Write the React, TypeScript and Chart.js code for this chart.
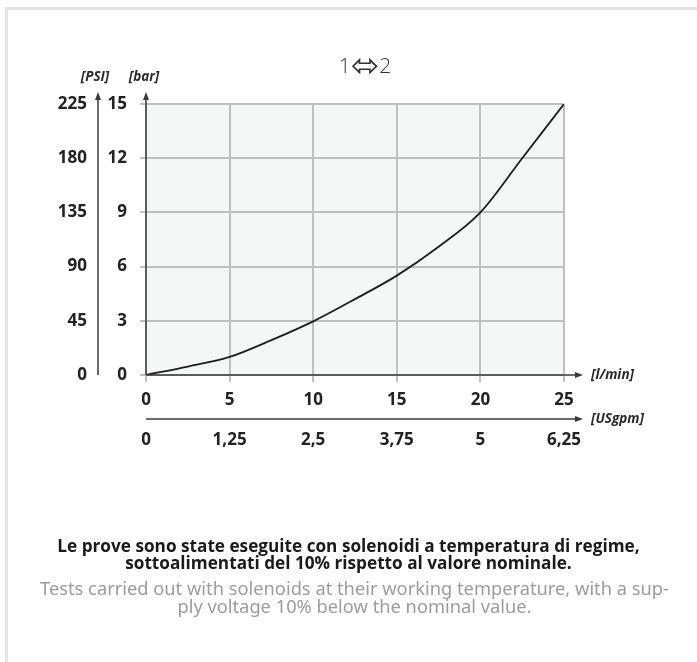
import { useEffect, useRef } from 'react';
import { Chart, registerables } from 'chart.js';

Chart.register(...registerables);

// ---- data ----
const FLOW_LMIN = [0, 2.5, 5, 7.5, 10, 12.5, 15, 17.5, 20, 22.5, 25];
const PRESSURE_BAR = [0, 0.47, 1.0, 1.93, 2.97, 4.2, 5.5, 7.1, 9.0, 12.0, 15.0];

const X_TICKS_LMIN = [0, 5, 10, 15, 20, 25];
const X_TICKS_USGPM = [0, 1.25, 2.5, 3.75, 5, 6.25];
const Y_TICKS_BAR = [0, 3, 6, 9, 12, 15];
const Y_TICKS_PSI = [0, 45, 90, 135, 180, 225];

const TITLE_LEFT = '1';
const TITLE_ARROW = '\u2B04';
const TITLE_RIGHT = '2';
const UNIT_PSI = '[PSI]';
const UNIT_BAR = '[bar]';
const UNIT_LMIN = '[l/min]';
const UNIT_USGPM = '[USgpm]';

const NOTE_IT = [
  'Le prove sono state eseguite con solenoidi a temperatura di regime,',
  'sottoalimentati del 10% rispetto al valore nominale.',
];
const NOTE_EN = [
  'Tests carried out with solenoids at their working temperature, with a sup-',
  'ply voltage 10% below the nominal value.',
];

const W = 697;
const H = 662;
const FONT = '"Open Sans", "DejaVu Sans", sans-serif';

const fmt = (v: number) => String(v).replace('.', ',');

export default function App() {
  const ref = useRef<HTMLCanvasElement>(null);

  useEffect(() => {
    document.body.style.margin = '0';
    const canvas = ref.current;
    if (!canvas) return;

    const bgPlugin = {
      id: 'plotBg',
      beforeDraw(c: any) {
        const { ctx, chartArea: a } = c;
        ctx.save();
        ctx.fillStyle = '#f5f6f6';
        ctx.fillRect(a.left, a.top, a.right - a.left, a.bottom - a.top);
        ctx.restore();
      },
    };

    const vArrow = (ctx: any, x: number, y0: number, y1: number) => {
      ctx.beginPath();
      ctx.moveTo(x, y0);
      ctx.lineTo(x, y1 + 6);
      ctx.stroke();
      ctx.beginPath();
      ctx.moveTo(x, y1);
      ctx.lineTo(x - 3, y1 + 8);
      ctx.lineTo(x + 3, y1 + 8);
      ctx.closePath();
      ctx.fill();
    };
    const hArrow = (ctx: any, x0: number, y: number, x1: number) => {
      ctx.beginPath();
      ctx.moveTo(x0, y);
      ctx.lineTo(x1 - 6, y);
      ctx.stroke();
      ctx.beginPath();
      ctx.moveTo(x1, y);
      ctx.lineTo(x1 - 8, y - 3);
      ctx.lineTo(x1 - 8, y + 3);
      ctx.closePath();
      ctx.fill();
    };

    const axesPlugin = {
      id: 'axesArrows',
      afterDraw(c: any) {
        const { ctx, chartArea: a, scales: s } = c;
        ctx.save();
        ctx.strokeStyle = '#3a3a3a';
        ctx.fillStyle = '#3a3a3a';
        ctx.lineWidth = 1.5;
        const tipTop = a.top - 12;
        const tipRight = a.right + 19;
        vArrow(ctx, a.left, a.bottom, tipTop);
        vArrow(ctx, s.y2.right, a.bottom, tipTop);
        hArrow(ctx, a.left, a.bottom, tipRight);
        hArrow(ctx, a.left, s.x2.top, tipRight);

        ctx.fillStyle = '#2a2a2a';
        ctx.font = `italic bold 13.5px ${FONT}`;
        ctx.textBaseline = 'middle';
        ctx.textAlign = 'center';
        ctx.fillText(UNIT_PSI, s.y2.right - 3, a.top - 27);
        ctx.fillText(UNIT_BAR, a.left - 2, a.top - 27);
        ctx.textAlign = 'left';
        ctx.fillText(UNIT_LMIN, tipRight + 8, a.bottom);
        ctx.fillText(UNIT_USGPM, tipRight + 8, s.x2.top);

        // title "1 <=> 2"
        const cx = (a.left + a.right) / 2 + 10;
        const cy = a.top - 37;
        const digitFont = `300 21px ${FONT}`;
        const arrowFont = `34px "DejaVu Sans", sans-serif`;
        ctx.font = digitFont;
        const w1 = ctx.measureText(TITLE_LEFT).width;
        const w2 = ctx.measureText(TITLE_RIGHT).width;
        ctx.font = arrowFont;
        const wa = ctx.measureText(TITLE_ARROW).width;
        const total = w1 + wa + w2;
        let x = cx - total / 2;
        ctx.fillStyle = '#333';
        ctx.textAlign = 'left';
        ctx.font = digitFont;
        ctx.fillText(TITLE_LEFT, x, cy);
        x += w1;
        ctx.font = arrowFont;
        ctx.fillText(TITLE_ARROW, x, cy + 1);
        x += wa;
        ctx.font = digitFont;
        ctx.fillText(TITLE_RIGHT, x, cy);
        ctx.restore();
      },
    };

    const gridCommon = {
      color: '#c0c0c0',
      lineWidth: 2,
      drawTicks: true,
      tickColor: '#c0c0c0',
    };
    const tickFont = { family: FONT, size: 17, weight: 'bold' as const };

    const chart = new Chart(canvas, {
      type: 'line',
      data: {
        datasets: [
          {
            data: FLOW_LMIN.map((x, i) => ({ x, y: PRESSURE_BAR[i] })),
            borderColor: '#1e1e1e',
            borderWidth: 1.8,
            pointRadius: 0,
            cubicInterpolationMode: 'monotone',
            fill: false,
          },
        ],
      },
      options: {
        responsive: false,
        animation: false,
        layout: { padding: { top: 104, left: 40, right: 133, bottom: 203 } },
        plugins: {
          legend: { display: false },
          tooltip: { enabled: false },
          title: { display: false },
        },
        scales: {
          x: {
            type: 'linear',
            position: 'bottom',
            weight: 0,
            min: 0,
            max: 25,
            afterBuildTicks: (sc: any) => {
              sc.ticks = X_TICKS_LMIN.map((value) => ({ value }));
            },
            afterFit: (sc: any) => {
              sc.height = 44;
            },
            grid: { ...gridCommon, tickLength: 7 },
            border: { display: false },
            ticks: {
              font: tickFont,
              color: '#222',
              padding: 8,
              maxRotation: 0,
              autoSkip: false,
              callback: (v: any) => fmt(v),
            },
          },
          x2: {
            type: 'linear',
            position: 'bottom',
            weight: 1,
            min: 0,
            max: 6.25,
            afterBuildTicks: (sc: any) => {
              sc.ticks = X_TICKS_USGPM.map((value) => ({ value }));
            },
            afterFit: (sc: any) => {
              sc.height = 40;
            },
            grid: { display: false, drawTicks: false },
            border: { display: false },
            ticks: {
              font: tickFont,
              color: '#222',
              padding: 11,
              maxRotation: 0,
              autoSkip: false,
              callback: (v: any) => fmt(v),
            },
          },
          y: {
            type: 'linear',
            position: 'left',
            weight: 0,
            min: 0,
            max: 15,
            afterBuildTicks: (sc: any) => {
              sc.ticks = Y_TICKS_BAR.map((value) => ({ value }));
            },
            afterFit: (sc: any) => {
              sc.width = 48;
            },
            grid: { ...gridCommon, tickLength: 6 },
            border: { display: false },
            ticks: {
              font: tickFont,
              color: '#222',
              padding: 13,
              autoSkip: false,
              callback: (v: any) => fmt(v),
            },
          },
          y2: {
            type: 'linear',
            position: 'left',
            weight: 1,
            min: 0,
            max: 225,
            afterBuildTicks: (sc: any) => {
              sc.ticks = Y_TICKS_PSI.map((value) => ({ value }));
            },
            afterFit: (sc: any) => {
              sc.width = 58;
            },
            grid: { display: false, drawTicks: false },
            border: { display: false },
            ticks: {
              font: tickFont,
              color: '#222',
              padding: 11,
              autoSkip: false,
              callback: (v: any) => fmt(v),
            },
          },
        },
      },
      plugins: [bgPlugin, axesPlugin],
    } as any);

    return () => chart.destroy();
  }, []);

  return (
    <div style={{ position: 'relative', width: W, height: H, overflow: 'hidden', background: '#fff' }}>
      <div
        style={{
          position: 'absolute',
          left: 5,
          top: 7,
          width: W,
          height: H,
          borderTop: '3px solid #e3e5e4',
          borderLeft: '3px solid #e3e5e4',
          boxSizing: 'border-box',
        }}
      />
      <canvas
        ref={ref}
        width={W}
        height={H}
        style={{ position: 'absolute', left: 0, top: 0, width: W, height: H }}
      />
      <div
        style={{
          position: 'absolute',
          left: 0,
          width: W,
          top: 537,
          textAlign: 'center',
          fontFamily: FONT,
          fontWeight: 'bold',
          fontSize: 17.2,
          lineHeight: '17px',
          color: '#1a1a1a',
          whiteSpace: 'nowrap',
        }}
      >
        {NOTE_IT[0]}
        <br />
        {NOTE_IT[1]}
      </div>
      <div
        style={{
          position: 'absolute',
          left: 6,
          width: W,
          top: 579,
          textAlign: 'center',
          fontFamily: '"Noto Sans", "Open Sans", sans-serif',
          fontSize: 18.3,
          lineHeight: '18px',
          color: '#9c9c9c',
          whiteSpace: 'nowrap',
        }}
      >
        {NOTE_EN[0]}
        <br />
        {NOTE_EN[1]}
      </div>
    </div>
  );
}
